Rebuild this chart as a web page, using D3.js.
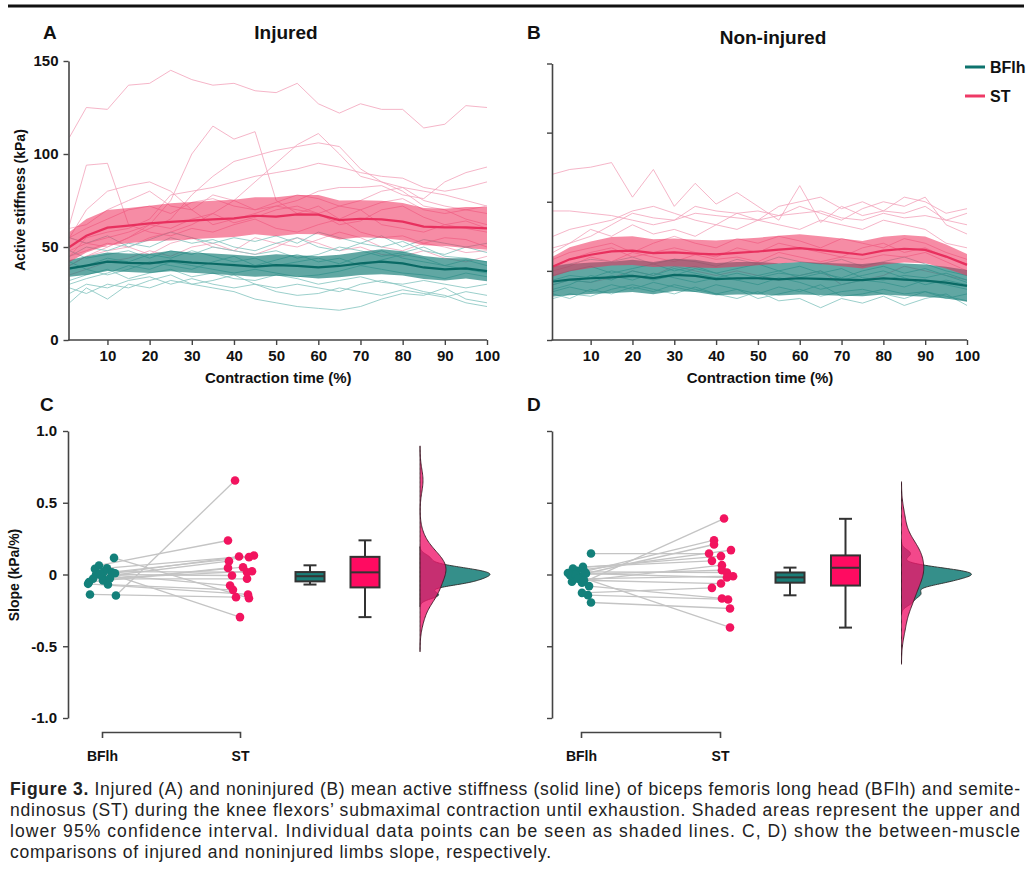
<!DOCTYPE html>
<html><head><meta charset="utf-8">
<script src="https://cdn.jsdelivr.net/npm/d3@7"></script>
<style>body{margin:0;background:#fff}svg{display:block}</style>
</head><body>
<svg id="c" width="1028" height="878"></svg>
<script>
// ---------------- DATA ----------------
const timePct = [1,5,10,15,20,25,30,35,40,45,50,55,60,65,70,75,80,85,90,95,100];
const timeTicks = [10,20,30,40,50,60,70,80,90,100];
const injYTicks = [0,50,100,150];
const nonYTicks = [0,30,60,90,120];

const injST_mean = [50,56,60.4,61.5,62.7,63.5,64.2,64.8,65.4,66.8,66.3,67.5,67.4,64.5,65.2,64.8,63.6,61,60.6,60.5,60];
const injST_ci   = [8,9,9.5,9.5,9.5,10,10,10,10,10,10.5,10.5,10.5,10.5,10,10,10,10,10,11,11.5];
const injBF_mean = [38.5,40,42.1,41.5,41.2,42.5,41.6,41,40.3,39.5,40.3,39.8,39,39.8,41.2,42.1,41.2,39,38,38.5,37];
const injBF_ci   = [4.5,5,5,5,5.2,5.5,5.5,5.5,5.5,5.5,5.8,5.8,6,6,6.2,6.7,6.5,6.2,6,5.5,5.4];
const nonST_mean = [31.9,35,37,38.5,38.8,37.7,38,37.5,37.2,37.8,38.4,39.2,39.9,39,38,37,38.8,39.6,39.1,36.2,32.6];
const nonST_ci   = [4.3,5.2,5.8,6.2,6.2,6,6,6,6,6,6,6,6,6,6,6,6,6,5.8,5.2,4.7];
const nonBF_mean = [25.4,26.2,26.8,27.2,27.8,26.9,28.3,27.8,26.4,26.8,26.8,26.3,26.8,26.5,26.2,26,26.8,26.2,25.8,24.9,23.5];
const nonBF_ci   = [6.5,6.8,6.8,6.8,7,7,7,7,7,7,7,7,7,7,7,7,7,7,7,6.9,6.9];

const injST_ind = [
 [109,125,124,137,138,145,140,137,138,134,133,138,127,122,127,124,124,114,116,126,125],
 [40,45,50,55,62,75,100,115,108,112,75,68,72,65,70,62,60,58,62,60,58],
 [55,52,50,55,60,65,78,88,96,99,102,104,106,104,92,85,80,72,70,65,62],
 [45,48,52,50,55,58,62,68,75,85,95,105,111,100,88,85,82,80,78,75,72],
 [62,94,95,62,58,56,60,58,62,65,60,58,62,65,58,55,56,52,55,54,50],
 [60,62,70,75,80,72,70,78,75,70,72,75,80,82,82,83,78,76,85,90,93],
 [45,55,58,60,65,78,80,82,85,88,90,92,95,93,90,88,87,82,80,82,85],
 [55,70,80,83,85,80,70,62,65,68,72,70,68,72,75,80,82,75,72,70,68],
 [48,52,55,58,62,60,65,68,63,66,70,72,68,62,64,70,72,66,62,64,60],
 [40,45,48,50,46,52,55,50,48,55,52,50,54,58,55,50,48,52,50,47,48],
 [35,38,42,44,48,45,50,52,48,46,50,55,52,48,50,46,45,48,44,42,45],
 [55,60,65,70,72,68,74,76,72,70,74,78,76,72,70,74,76,70,68,70,72]
];
const injBF_ind = [
 [20,28,22,30,28,32,30,28,26,22,20,18,17,16,18,22,25,24,28,22,20],
 [25,30,28,32,34,30,33,30,28,30,26,24,25,28,26,24,27,25,23,26,24],
 [32,35,38,33,36,38,34,36,33,32,35,33,30,32,34,31,30,32,30,28,30],
 [45,50,48,52,50,55,52,54,50,48,52,55,50,48,52,50,53,48,46,50,47],
 [38,40,44,42,46,44,48,45,42,44,40,42,44,41,45,48,44,42,40,43,40],
 [55,52,56,50,54,58,55,52,55,53,56,52,58,55,52,56,50,54,52,50,52],
 [30,33,36,40,38,42,40,38,36,38,36,34,35,37,40,38,36,35,33,36,34],
 [42,38,35,38,42,40,38,42,45,40,43,46,42,44,40,43,46,44,40,38,36],
 [28,25,30,28,32,35,30,32,35,30,28,30,28,26,30,32,29,26,24,20,18],
 [48,44,46,48,44,48,46,50,48,46,48,44,46,50,48,45,47,50,45,44,42]
];
const nonST_ind = [
 [72,74,75,77,62,74,58,68,59,64,58,52,67,51,58,54,56,55,58,52,55],
 [56,56,55,54,52,50,52,55,54,53,52,54,55,56,53,52,55,53,54,52,50],
 [40,42,45,50,55,53,52,58,56,55,52,58,60,62,57,60,56,62,60,55,57],
 [45,48,50,52,56,58,55,52,50,55,56,54,58,55,52,57,60,58,62,50,46],
 [38,42,48,45,50,46,48,45,50,48,52,50,48,52,50,48,52,50,48,42,40],
 [35,38,40,42,38,42,45,42,40,44,42,45,43,40,44,42,40,44,42,38,35],
 [24,26,25,27,30,28,32,30,28,30,28,26,28,30,24,26,28,32,30,28,26],
 [32,35,38,40,36,38,40,38,36,40,38,42,40,38,36,40,42,38,40,36,33],
 [30,32,36,34,38,36,34,37,35,36,34,38,36,34,36,35,37,36,38,34,30]
];
const nonBF_ind = [
 [18,20,19,22,24,22,20,23,20,18,21,17,18,14,18,16,19,15,18,20,15],
 [20,18,22,20,23,21,24,22,20,22,18,20,22,19,21,22,20,18,21,19,17],
 [24,26,25,28,26,29,27,25,27,26,24,27,25,22,24,26,25,23,26,24,22],
 [28,30,32,29,31,33,30,32,29,31,33,30,32,29,27,30,32,29,31,28,25],
 [32,33,35,34,36,33,35,34,32,35,33,36,34,33,35,32,34,36,33,30,28],
 [22,24,28,26,30,28,31,29,27,29,27,29,28,30,26,28,30,27,24,26,24],
 [26,28,27,30,28,26,28,31,29,26,28,30,27,29,31,27,26,28,27,29,26],
 [21,23,21,24,22,25,23,21,24,22,20,23,21,24,19,20,22,20,21,18,20]
];

const muscles = ["BFlh","ST"];
const slopeTicks = [-1,-0.5,0,0.5,1];
// paired slopes (same index = same participant)
const injSlope_BF = [-0.139,-0.146,0.116,0.063,0.039,0.044,0.016,0.009,-0.014,-0.053,-0.065,-0.07,-0.042,0.0,0.02,-0.025,-0.03,0.005];
const injSlope_ST = [-0.158,0.655,-0.165,0.237,-0.297,0.132,0.121,0.125,0.093,0.046,-0.139,-0.107,0.051,-0.007,0.016,0.023,-0.03,-0.077];
const nonSlope_BF = [0.146,-0.195,-0.144,-0.128,-0.081,-0.058,-0.051,-0.016,-0.005,0.007,0.026,0.042,0.053,0.0,0.018,-0.03,0.01,-0.04];
const nonSlope_ST = [0.146,-0.237,-0.174,-0.093,-0.167,0.39,0.065,-0.369,0.239,0.209,0.17,0.128,0.095,0.03,0.014,-0.012,-0.021,-0.063];
// horizontal jitter, in units of the BFlh-ST spacing
const injJit_BF = [-0.087,0.101,0.087,-0.022,-0.051,0.036,0.072,0.094,0,-0.094,-0.101,0.043,0.007,-0.043,0.014,0.058,-0.065,-0.014];
const injJit_ST = [-0.029,-0.036,0.065,-0.087,0,0.101,0.065,-0.007,-0.08,-0.087,0.058,-0.051,0.022,-0.058,0.051,0.087,0.051,-0.072];
const nonJit_BF = [0.072,0.072,0.05,0.007,0.058,0.007,-0.065,-0.007,-0.079,0.036,-0.029,-0.058,0.014,-0.043,0.029,-0.022,-0.094,0.022];
const nonJit_ST = [-0.079,0.072,0.058,-0.058,0.014,0.029,0.014,0.072,-0.043,-0.043,0.079,0.007,-0.058,0.014,0.05,0.094,0.05,0.007];
// box stats: [lower whisker, Q1, median, Q3, upper whisker]
const injBox_BF = [-0.07,-0.048,-0.012,0.017,0.064];
const injBox_ST = [-0.297,-0.09,0.015,0.123,0.238];
const nonBox_BF = [-0.145,-0.057,-0.02,0.014,0.048];
const nonBox_ST = [-0.37,-0.077,0.047,0.133,0.388];

// ---------------- STYLE ----------------
const FONT = "'Liberation Sans', Arial, Helvetica, sans-serif";
const TEAL_DOT = "#13807a", PINK_DOT = "#f2145f";
const svg = d3.select("#c");

svg.append("line").attr("x1",8).attr("x2",1024).attr("y1",6).attr("y2",6)
  .attr("stroke","#111").attr("stroke-width",3);

function styleAxis(g, showText){
  g.select(".domain").attr("stroke","#444").attr("stroke-width",1.6);
  g.selectAll(".tick line").attr("stroke","#444").attr("stroke-width",1.4);
  g.selectAll(".tick text").attr("font-family",FONT).attr("font-weight","bold")
   .attr("font-size",15).attr("fill","#111");
  if(!showText) g.selectAll(".tick text").remove();
}
function label(x,y,t,size,anchor,rot){
  const e = svg.append("text").attr("font-family",FONT).attr("font-weight","bold")
   .attr("font-size",size).attr("fill","#111").attr("text-anchor",anchor||"start").text(t);
  if(rot) e.attr("transform",`translate(${x},${y}) rotate(-90)`); else e.attr("x",x).attr("y",y);
  return e;
}

// ---------------- TIME PANELS ----------------
function timePanel(o){
  const x = d3.scaleLinear().domain([1,100]).range(o.xr);
  const y = d3.scaleLinear().domain(o.yd).range(o.yr);
  const g = svg.append("g");
  const line = d3.line().x((d,i)=>x(timePct[i])).y(d=>y(d));
  o.stInd.forEach(s=>g.append("path").attr("d",line(s)).attr("fill","none")
     .attr("stroke","#f3a3ba").attr("stroke-opacity",0.8).attr("stroke-width",1));
  o.bfInd.forEach(s=>g.append("path").attr("d",line(s)).attr("fill","none")
     .attr("stroke","#8ac7c2").attr("stroke-opacity",0.85).attr("stroke-width",1));
  const band = (m,c)=>d3.area().x((d,i)=>x(timePct[i])).y0((d,i)=>y(m[i]-c[i])).y1((d,i)=>y(m[i]+c[i]))(m);
  g.append("path").attr("d",band(o.bfMean,o.bfCi)).attr("fill","#0f7a74").attr("fill-opacity",0.66);
  g.append("path").attr("d",band(o.stMean,o.stCi)).attr("fill","#ef2d5b").attr("fill-opacity",0.55);
  g.append("path").attr("d",line(o.bfMean)).attr("fill","none").attr("stroke","#0a6a65").attr("stroke-width",2.2);
  g.append("path").attr("d",line(o.stMean)).attr("fill","none").attr("stroke","#e8305e").attr("stroke-width",2.2);
  const ax = g.append("g").attr("transform",`translate(0,${o.yr[0]})`)
    .call(d3.axisBottom(x).tickValues(timeTicks).tickSize(5).tickSizeOuter(0).tickPadding(5));
  styleAxis(ax,true);
  ax.select(".domain").attr("d",`M${o.xr[0]-1.5},0H${o.xr[1]}`);
  const ay = g.append("g").attr("transform",`translate(${o.xr[0]-1},0)`)
    .call(d3.axisLeft(y).tickValues(o.yTicks).tickSize(5).tickSizeOuter(0).tickPadding(5));
  styleAxis(ay,o.yLabels);
  label((o.xr[0]+o.xr[1])/2, 383, "Contraction time (%)", 15, "middle");
}
timePanel({xr:[69.5,487],yr:[340,61],yd:[0,150],yTicks:injYTicks,yLabels:true,
  stInd:injST_ind,bfInd:injBF_ind,stMean:injST_mean,stCi:injST_ci,bfMean:injBF_mean,bfCi:injBF_ci});
timePanel({xr:[553,967],yr:[340,63.5],yd:[0,120],yTicks:nonYTicks,yLabels:false,
  stInd:nonST_ind,bfInd:nonBF_ind,stMean:nonST_mean,stCi:nonST_ci,bfMean:nonBF_mean,bfCi:nonBF_ci});

label(43,39,"A",19);
label(286,39,"Injured",19,"middle");
label(527,39,"B",19);
label(773,44,"Non-injured",19,"middle");
label(25,200,"Active stiffness (kPa)",14,"middle",true);

// legend
[["BFlh","#0d736d",67],["ST","#ee3a66",96]].forEach(([t,c,yy])=>{
  svg.append("line").attr("x1",965).attr("x2",985).attr("y1",yy).attr("y2",yy)
     .attr("stroke",c).attr("stroke-width",3);
  label(990,yy+6,t,16);
});

// ---------------- SLOPE PANELS ----------------
function kde(vals){
  const s = vals.slice().sort(d3.ascending);
  const sd = d3.deviation(s), iqr = (d3.quantile(s,0.75)-d3.quantile(s,0.25))/1.34;
  const bw = 0.9*Math.min(sd,iqr)*Math.pow(s.length,-0.2);
  const lo = s[0]-3*bw, hi = s[s.length-1]+3*bw;
  return d3.range(161).map(i=>{
    const v = lo+(hi-lo)*i/160;
    return [v, d3.mean(s,u=>Math.exp(-0.5*((v-u)/bw)**2))/(bw*Math.sqrt(2*Math.PI))];
  });
}
function slopePanel(o){
  const y = d3.scaleLinear().domain([-1,1]).range([718,431]);
  const xc = d3.scalePoint().domain(muscles).range(o.cat);
  const xj = d3.scaleLinear().domain([0,1]).range([0,o.cat[1]-o.cat[0]]);
  const g = svg.append("g");
  const ay = g.append("g").attr("transform",`translate(${o.axX},0)`)
    .call(d3.axisLeft(y).tickValues(slopeTicks).tickSize(5).tickSizeOuter(0).tickPadding(6)
      .tickFormat(d=>d===0?"0":(d<0?"-":"")+d3.format(".1f")(Math.abs(d))));
  styleAxis(ay,o.labels);
  const ab = g.append("g").attr("transform","translate(0,732)")
    .call(d3.axisBottom(xc).tickSizeInner(0).tickSizeOuter(6).tickPadding(19));
  styleAxis(ab,true);
  ab.selectAll(".tick text").attr("font-size",14);
  // paired lines
  o.bf.forEach((v,i)=>{
    g.append("line").attr("x1",xc("BFlh")+xj(o.jbf[i])).attr("y1",y(v))
      .attr("x2",xc("ST")+xj(o.jst[i])).attr("y2",y(o.st[i]))
      .attr("stroke","#c4c4c4").attr("stroke-width",1.3);
  });
  o.bf.forEach((v,i)=>g.append("circle").attr("cx",xc("BFlh")+xj(o.jbf[i])).attr("cy",y(v)).attr("r",4.3).attr("fill",TEAL_DOT));
  o.st.forEach((v,i)=>g.append("circle").attr("cx",xc("ST")+xj(o.jst[i])).attr("cy",y(v)).attr("r",4.3).attr("fill",PINK_DOT));
  // boxes
  const xb = d3.scalePoint().domain(muscles).range(o.boxX);
  [["BFlh",o.boxBF,"#1a7d77"],["ST",o.boxST,"#ff0b61"]].forEach(([m,b,c])=>{
    const cx = xb(m), w = 29, cap = 13;
    g.append("line").attr("x1",cx).attr("x2",cx).attr("y1",y(b[0])).attr("y2",y(b[4])).attr("stroke","#333").attr("stroke-width",2);
    [b[0],b[4]].forEach(v=>g.append("line").attr("x1",cx-cap/2).attr("x2",cx+cap/2).attr("y1",y(v)).attr("y2",y(v)).attr("stroke","#333").attr("stroke-width",2));
    g.append("rect").attr("x",cx-w/2).attr("y",y(b[3])).attr("width",w).attr("height",y(b[1])-y(b[3]))
      .attr("fill",c).attr("stroke","#333").attr("stroke-width",2);
    g.append("line").attr("x1",cx-w/2).attr("x2",cx+w/2).attr("y1",y(b[2])).attr("y2",y(b[2])).attr("stroke","#333").attr("stroke-width",2);
  });
  // half violins
  const dBF = kde(o.bf), dST = kde(o.st);
  const k = 70/d3.max(dBF,d=>d[1]);
  const ar = d3.area().y(d=>y(d[0])).x0(o.vx).x1(d=>o.vx+k*d[1]).curve(d3.curveBasis);
  g.append("path").attr("d",ar(dBF)).attr("fill","#1f837d").attr("fill-opacity",0.9).attr("stroke","#2a2a2a").attr("stroke-width",0.9);
  g.append("path").attr("d",ar(dST)).attr("fill","#f0156a").attr("fill-opacity",0.78).attr("stroke","#3a1a25").attr("stroke-width",0.9);
  label(o.lx,411,o.letter,19);
}
slopePanel({axX:68,labels:true,cat:[102,240],boxX:[310,365],vx:420,letter:"C",lx:40,
  bf:injSlope_BF,st:injSlope_ST,jbf:injJit_BF,jst:injJit_ST,boxBF:injBox_BF,boxST:injBox_ST});
slopePanel({axX:552,labels:false,cat:[581,720],boxX:[790,845.5],vx:901.5,letter:"D",lx:527,
  bf:nonSlope_BF,st:nonSlope_ST,jbf:nonJit_BF,jst:nonJit_ST,boxBF:nonBox_BF,boxST:nonBox_ST});
label(19,575,"Slope (kPa/%)",14,"middle",true);

// ---------------- CAPTION ----------------
const capLines = [
 ["Figure 3."," Injured (A) and noninjured (B) mean active stiffness (solid line) of biceps femoris long head (BFlh) and semite-"],
 ["","ndinosus (ST) during the knee flexors\u2019 submaximal contraction until exhaustion. Shaded areas represent the upper and"],
 ["","lower 95% confidence interval. Individual data points can be seen as shaded lines. C, D) show the between-muscle"],
 ["","comparisons of injured and noninjured limbs slope, respectively."]
];
const capWidths = [1010,1010,1010,541];
capLines.forEach(([b,t],i)=>{
  const e = svg.append("text").attr("x",10).attr("y",794.5+i*21).attr("font-family",FONT)
    .attr("font-size",17.5).attr("fill","#222")
    .attr("textLength",capWidths[i]).attr("lengthAdjust","spacing");
  if(b) e.append("tspan").attr("font-weight","bold").text(b);
  e.append("tspan").text(t);
});
</script>
</body></html>
